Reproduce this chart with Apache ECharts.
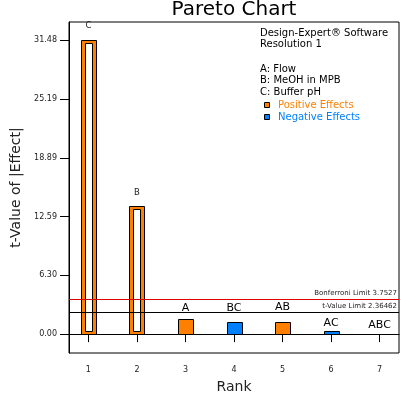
<!DOCTYPE html>
<html>
<head>
<meta charset="utf-8">
<script src="https://cdn.jsdelivr.net/npm/echarts@6/dist/echarts.min.js"></script>
<style>
html, body { margin: 0; padding: 0; background: #fff; }
#chart { width: 413px; height: 399px; }
</style>
</head>
<body>
<div id="chart"></div>
<script>
const ranks = [1, 2, 3, 4, 5, 6, 7]
const terms = ['C', 'B', 'A', 'BC', 'AB', 'AC', 'ABC']
const tValues = [31.48, 13.70, 1.67, 1.35, 1.25, 0.30, 0.03]
const effectSigns = ['+', '+', '+', '-', '+', '-', '+']
const yTicks = [0, 6.2963, 12.5926, 18.8889, 25.1852, 31.4815]
const bonferroniLimit = 3.7527
const tValueLimit = 2.36462
const headerLines = ['Design-Expert® Software', 'Resolution 1']
const factorNames = ['A: Flow', 'B: MeOH in MPB', 'C: Buffer pH']

const ORANGE = '#ff8000'
const BLUE = '#0080ff'
const FONT = 'DejaVu Sans'
// gap between bar top and its term label (px)
const labelGap = [15, 14, 11, 14, 16, 9, 10]

const chart = echarts.init(document.getElementById('chart'))

function renderBar(params, api) {
  const i = api.value(2)
  const top = api.coord([api.value(0), api.value(1)])
  const base = api.coord([api.value(0), 0])
  const w = 15
  const x = Math.round(top[0] - w / 2) + 0.5
  const y = Math.round(top[1]) + 0.5
  const h = Math.max(Math.round(base[1]) - Math.round(top[1]), 0)
  const hollow = tValues[i] > bonferroniLimit
  const children = [{
    type: 'rect',
    shape: { x: x, y: y, width: w, height: h },
    style: { fill: effectSigns[i] === '+' ? ORANGE : BLUE, stroke: '#000', lineWidth: 1 }
  }]
  if (hollow) {
    children.push({
      type: 'rect',
      shape: { x: x + 4, y: y + 3, width: w - 8, height: h - 6 },
      style: { fill: '#fff', stroke: '#000', lineWidth: 1 }
    })
  }
  children.push({
    type: 'text',
    x: top[0],
    y: top[1] - labelGap[i] + 1,
    style: {
      text: terms[i],
      align: 'center',
      verticalAlign: 'middle',
      fontFamily: FONT,
      fontSize: hollow ? 8.5 : 11,
      fill: hollow ? '#222' : '#000'
    }
  })
  return { type: 'group', children: children }
}

function barData(sign) {
  return ranks.map((r, i) => [r, tValues[i], i]).filter(d => effectSigns[d[2]] === sign)
}

const headerText = []
headerLines.forEach((t, i) => {
  headerText.push({ type: 'text', x: 260, y: 33 + i * 11.7, style: { text: t, fontFamily: FONT, fontSize: 10, fill: '#000', verticalAlign: 'middle' } })
})
factorNames.forEach((t, i) => {
  headerText.push({ type: 'text', x: 260, y: 69 + i * 11.5, style: { text: t, fontFamily: FONT, fontSize: 10, fill: '#000', verticalAlign: 'middle' } })
})
const legendItems = [['Positive Effects', ORANGE], ['Negative Effects', BLUE]]
legendItems.forEach((it, i) => {
  headerText.push({ type: 'rect', shape: { x: 264.5, y: 102.5 + i * 12, width: 5, height: 5 }, style: { fill: it[1], stroke: '#000', lineWidth: 1 } })
  headerText.push({ type: 'text', x: 278, y: 105 + i * 12, style: { text: it[0], fontFamily: FONT, fontSize: 10, fill: it[1], verticalAlign: 'middle' } })
})

const option = {
  animation: false,
  grid: {
    left: 69, top: 22, right: 14, bottom: 44,
    show: true, borderColor: '#000', borderWidth: 1
  },
  graphic: [{
    type: 'text', x: 234, y: 10,
    style: { text: 'Pareto Chart', fontFamily: FONT, fontSize: 20, fill: '#000', align: 'center', verticalAlign: 'middle' }
  }].concat(headerText),
  xAxis: {
    type: 'value',
    min: 0.6,
    max: 7.4,
    name: 'Rank',
    nameLocation: 'middle',
    nameGap: 27,
    nameTextStyle: { fontFamily: FONT, fontSize: 14, color: '#222' },
    axisLine: { lineStyle: { color: '#000' } },
    axisTick: { length: 8, lineStyle: { color: '#000' }, customValues: ranks },
    axisLabel: { customValues: ranks, margin: 13, fontFamily: FONT, fontSize: 8, color: '#222' },
    splitLine: { show: false }
  },
  yAxis: {
    type: 'value',
    min: -2.02,
    max: 33.43,
    name: 't-Value of |Effect|',
    nameLocation: 'middle',
    nameGap: 42,
    nameTextStyle: { fontFamily: FONT, fontSize: 14, color: '#222' },
    axisLine: { show: true, lineStyle: { color: '#000' } },
    axisTick: { show: true, length: 9, lineStyle: { color: '#000' }, customValues: yTicks },
    axisLabel: {
      customValues: yTicks, margin: 12, fontFamily: FONT, fontSize: 8, color: '#222',
      formatter: v => v.toFixed(2)
    },
    splitLine: { show: false }
  },
  series: [
    {
      name: 'Positive Effects',
      type: 'custom',
      renderItem: renderBar,
      encode: { x: 0, y: 1 },
      data: barData('+'),
      markLine: {
        silent: true,
        symbol: 'none',
        label: { position: 'insideEndTop', distance: 2, fontFamily: FONT, fontSize: 7, color: '#222' },
        data: [
          { yAxis: bonferroniLimit, lineStyle: { color: '#e00000', width: 1, type: 'solid' }, label: { formatter: 'Bonferroni Limit ' + bonferroniLimit } },
          { yAxis: tValueLimit, lineStyle: { color: '#000', width: 1, type: 'solid' }, label: { formatter: 't-Value Limit ' + tValueLimit } }
        ]
      }
    },
    {
      name: 'Negative Effects',
      type: 'custom',
      renderItem: renderBar,
      encode: { x: 0, y: 1 },
      data: barData('-')
    }
  ]
}

chart.setOption(option)
</script>
</body>
</html>
